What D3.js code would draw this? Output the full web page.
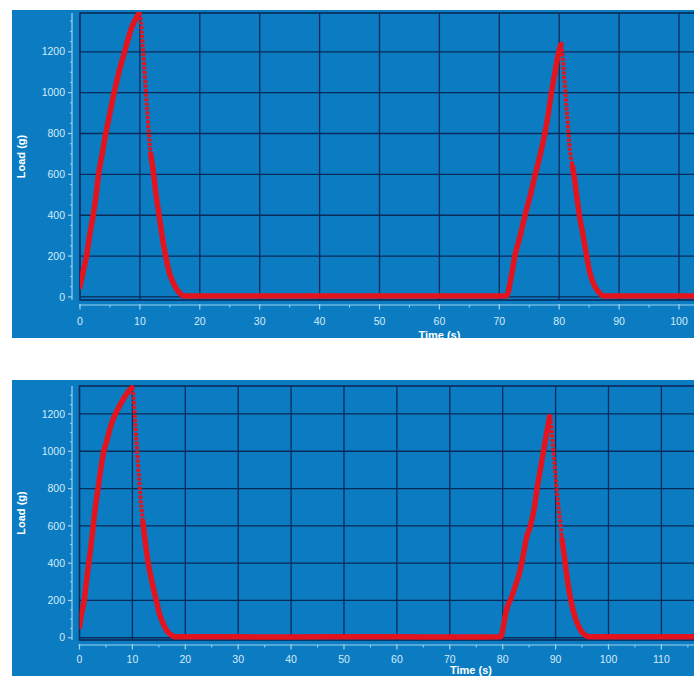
<!DOCTYPE html>
<html>
<head>
<meta charset="utf-8">
<script src="https://cdn.jsdelivr.net/npm/d3@7/dist/d3.min.js"></script>
<style>
  html, body { margin: 0; padding: 0; background: #ffffff; }
  svg { display: block; }
</style>
</head>
<body>
<svg id="chart" width="694" height="676"></svg>
<script>
// ---------------- DATA ----------------
const xTickValues = [0, 10, 20, 30, 40, 50, 60, 70, 80, 90, 100, 110, 120, 130, 140];
const yTickValues = [0, 200, 400, 600, 800, 1000, 1200];
const xAxisLabel = "Time (s)";
const yAxisLabel = "Load (g)";

// Top trace
const topTime = [0, 0.5, 1.1, 1.6, 2.2, 2.7, 3.1, 3.7, 4.3, 5.0, 5.7, 6.5, 7.4, 8.0, 8.5, 9.2, 9.85,
  10.0, 10.3, 10.6, 10.9, 11.2, 11.5, 11.8,
  12.3, 12.7, 13.2, 13.7, 14.3, 14.9, 15.6, 16.2, 16.8, 17.3,
  20, 30, 40, 50, 60, 70, 71.2,
  72.0, 72.6, 73.5, 74.3, 75.2, 76.0, 76.7, 77.6, 78.2, 78.7, 79.3, 79.9, 80.3,
  80.5, 80.9, 81.3, 81.8, 82.2,
  82.5, 82.9, 83.4, 84.0, 84.6, 85.1, 85.7, 86.3, 86.8, 87.3,
  90, 100, 110, 120];
const topLoad = [50, 120, 200, 300, 400, 500, 600, 700, 800, 900, 1000, 1100, 1195, 1260, 1309, 1355, 1390,
  1385, 1300, 1180, 1050, 920, 800, 700,
  600, 500, 400, 300, 200, 120, 67, 35, 15, 5,
  5, 4, 5, 5, 4, 5, 5,
  100, 200, 300, 400, 500, 600, 680, 800, 900, 1000, 1100, 1195, 1236,
  1200, 1050, 900, 720, 640,
  590, 500, 394, 300, 198, 120, 67, 35, 18, 5,
  5, 5, 5, 5];
const topSteep = [[9.85, 11.8], [80.3, 82.2]];

// Bottom trace
const bottomTime = [0, 0.4, 0.9, 1.3, 1.75, 2.2, 2.6, 3.0, 3.5, 4.0, 4.6, 5.1, 5.7, 6.2, 6.8, 7.7, 8.5, 9.2, 9.9,
  10.1, 10.5, 10.9, 11.3, 11.7, 12.0,
  12.4, 13.0, 13.7, 14.5, 15.1, 15.8, 16.6, 17.4, 17.9,
  20, 30, 40, 50, 60, 70, 79.6,
  80.0, 80.5, 81.0, 81.5, 82.3, 83.3, 84.0, 84.4, 85.2, 86.0, 86.5, 87.1, 87.7, 88.4, 88.9,
  89.1, 89.5, 89.9, 90.3, 90.8, 91.2,
  91.6, 92.0, 92.5, 93.2, 94.0, 94.8, 95.6, 96.3,
  100, 110, 120, 130, 140, 148];
const bottomLoad = [59, 130, 200, 300, 400, 500, 600, 700, 800, 900, 1000, 1050, 1114, 1160, 1200, 1250, 1290, 1320, 1340,
  1320, 1170, 1000, 840, 700, 620,
  520, 399, 300, 202, 130, 77, 35, 14, 5,
  5, 5, 4, 5, 5, 4, 5,
  40, 120, 175, 205, 270, 362, 460, 524, 596, 700, 801, 900, 998, 1110, 1186,
  1160, 1030, 900, 770, 640, 530,
  450, 360, 260, 160, 85, 38, 14, 5,
  5, 5, 5, 5, 5, 5];
const bottomSteep = [[88.9, 91.2], [9.9, 12.0]];

// ---------------- DRAWING ----------------
const VIEW_W = 694;
const svg = d3.select("#chart");
const COLORS = {
  panel: "#0b7cc2",
  grid: "#0a2a58",
  axis: "#9ad6f0",
  label: "#d6ebf8",
  title: "#ffffff",
  trace: "#e3141d"
};

function drawPanel(cfg, idx) {
  const g = svg.append("g");
  const clipId = "panelclip" + idx;
  svg.append("defs").append("clipPath").attr("id", clipId)
    .append("rect").attr("x", cfg.panel[0]).attr("y", cfg.panel[1])
    .attr("width", cfg.panel[2]).attr("height", cfg.panel[3]);
  g.attr("clip-path", `url(#${clipId})`);

  g.append("rect")
    .attr("x", cfg.panel[0]).attr("y", cfg.panel[1])
    .attr("width", cfg.panel[2]).attr("height", cfg.panel[3])
    .attr("fill", COLORS.panel);

  const x = d3.scaleLinear().domain(cfg.xDomain).range(cfg.xRange);
  const y = d3.scaleLinear().domain(cfg.yDomain).range(cfg.yRange);

  const plotX0 = x(cfg.xDomain[0]), plotX1 = x(cfg.xDomain[1]);
  const plotY0 = y(cfg.yDomain[1]), plotY1 = y(cfg.yDomain[0]);

  const plotClip = "plotclip" + idx;
  svg.select("defs").append("clipPath").attr("id", plotClip)
    .append("rect").attr("x", plotX0).attr("y", plotY0 - 1)
    .attr("width", plotX1 - plotX0).attr("height", plotY1 - plotY0 + 2);

  // grid
  const grid = g.append("g");
  grid.selectAll("line.v").data(xTickValues.filter(d => d > 0 && d <= cfg.xDomain[1]))
    .join("line").attr("class", "v")
    .attr("x1", d => x(d)).attr("x2", d => x(d))
    .attr("y1", plotY0).attr("y2", plotY1)
    .attr("stroke", COLORS.grid).attr("stroke-width", 1.3);
  grid.selectAll("line.h").data(yTickValues)
    .join("line").attr("class", "h")
    .attr("x1", plotX0).attr("x2", plotX1)
    .attr("y1", d => y(d)).attr("y2", d => y(d))
    .attr("stroke", COLORS.grid).attr("stroke-width", 1.3);
  grid.append("rect")
    .attr("x", plotX0).attr("y", plotY0)
    .attr("width", plotX1 - plotX0).attr("height", plotY1 - plotY0)
    .attr("fill", "none").attr("stroke", COLORS.grid).attr("stroke-width", 1.6);

  // trace
  const pts = cfg.time.map((t, i) => [t, cfg.load[i]]);
  const isSteep = (a, b) => cfg.steep.some(r => a[0] >= r[0] && b[0] <= r[1]);
  const segs = [];
  for (let i = 0; i < pts.length - 1; i++) {
    const s = isSteep(pts[i], pts[i + 1]);
    const last = segs[segs.length - 1];
    if (last && last.steep === s) last.pts.push(pts[i + 1]);
    else segs.push({ steep: s, pts: [pts[i], pts[i + 1]] });
  }
  const line = d3.line().x(d => x(d[0])).y(d => y(d[1])).curve(d3.curveMonotoneX);
  const tg = g.append("g").attr("clip-path", `url(#${plotClip})`);
  segs.forEach(sg => {
    const p = tg.append("path").attr("d", line(sg.pts))
      .attr("fill", "none").attr("stroke", COLORS.trace);
    if (sg.steep) {
      p.attr("stroke-width", 4).attr("stroke-dasharray", "3.2,1.3");
    } else {
      p.attr("stroke-width", 5.5).attr("stroke-linecap", "round").attr("stroke-linejoin", "round");
    }
  });

  // Y axis
  const ya = g.append("g");
  ya.append("line").attr("x1", cfg.yAxisX).attr("x2", cfg.yAxisX)
    .attr("y1", plotY0).attr("y2", plotY1)
    .attr("stroke", COLORS.axis).attr("stroke-width", 1.2);
  const yMinor = d3.range(0, cfg.yDomain[1], 50).filter(v => v % 200 !== 0);
  ya.selectAll("line.ymin").data(yMinor).join("line").attr("class", "ymin")
    .attr("x1", cfg.yAxisX - 2).attr("x2", cfg.yAxisX)
    .attr("y1", d => y(d)).attr("y2", d => y(d))
    .attr("stroke", COLORS.axis).attr("stroke-width", 1);
  ya.selectAll("line.ymaj").data(yTickValues).join("line").attr("class", "ymaj")
    .attr("x1", cfg.yAxisX - 4).attr("x2", cfg.yAxisX)
    .attr("y1", d => y(d)).attr("y2", d => y(d))
    .attr("stroke", COLORS.axis).attr("stroke-width", 1.2);
  ya.selectAll("text").data(yTickValues).join("text")
    .attr("x", cfg.yAxisX - 7).attr("y", d => y(d)).attr("dy", "0.35em")
    .attr("text-anchor", "end")
    .attr("font-family", "Liberation Sans, Arial, sans-serif").attr("font-size", 10.5)
    .attr("fill", COLORS.label).text(d => d);

  // X axis
  const xa = g.append("g");
  xa.append("line").attr("x1", plotX0 - 1).attr("x2", plotX1)
    .attr("y1", cfg.xAxisY).attr("y2", cfg.xAxisY)
    .attr("stroke", COLORS.axis).attr("stroke-width", 1.2);
  const xMinor = d3.range(5, cfg.xDomain[1], 10);
  xa.selectAll("line.xmin").data(xMinor).join("line").attr("class", "xmin")
    .attr("x1", d => x(d)).attr("x2", d => x(d))
    .attr("y1", cfg.xAxisY).attr("y2", cfg.xAxisY + 2.5)
    .attr("stroke", COLORS.axis).attr("stroke-width", 1);
  const xMajor = xTickValues.filter(d => d <= cfg.xDomain[1]);
  xa.selectAll("line.xmaj").data(xMajor).join("line").attr("class", "xmaj")
    .attr("x1", d => x(d)).attr("x2", d => x(d))
    .attr("y1", cfg.xAxisY - 1).attr("y2", cfg.xAxisY + 4.5)
    .attr("stroke", COLORS.axis).attr("stroke-width", 1.2);
  xa.selectAll("text").data(xMajor.filter(d => x(d) < VIEW_W - 8)).join("text")
    .attr("x", d => x(d)).attr("y", cfg.xLabelY)
    .attr("text-anchor", "middle")
    .attr("font-family", "Liberation Sans, Arial, sans-serif").attr("font-size", 10.5)
    .attr("fill", COLORS.label).text(d => d);

  // axis titles
  g.append("text")
    .attr("x", (plotX0 + plotX1) / 2).attr("y", cfg.xTitleY)
    .attr("text-anchor", "middle")
    .attr("font-family", "Liberation Sans, Arial, sans-serif").attr("font-size", 11)
    .attr("font-weight", "bold").attr("fill", COLORS.title).text(xAxisLabel);
  g.append("text")
    .attr("transform", `translate(${cfg.yTitleX},${(plotY0 + plotY1) / 2}) rotate(-90)`)
    .attr("text-anchor", "middle")
    .attr("font-family", "Liberation Sans, Arial, sans-serif").attr("font-size", 11)
    .attr("font-weight", "bold").attr("fill", COLORS.title).text(yAxisLabel);
}

drawPanel({
  panel: [12, 10, 682, 328],
  xDomain: [0, 120], xRange: [80, 798.8],
  yDomain: [-15, 1390], yRange: [300, 13],
  yAxisX: 72, xAxisY: 305, xLabelY: 325, xTitleY: 338.5, yTitleX: 25,
  time: topTime, load: topLoad, steep: topSteep
}, 0);

drawPanel({
  panel: [12, 380, 682, 296],
  xDomain: [0, 148], xRange: [79.5, 862.4],
  yDomain: [-12, 1350], yRange: [640, 386],
  yAxisX: 72, xAxisY: 645, xLabelY: 663, xTitleY: 674, yTitleX: 25,
  time: bottomTime, load: bottomLoad, steep: bottomSteep
}, 1);
</script>
</body>
</html>
